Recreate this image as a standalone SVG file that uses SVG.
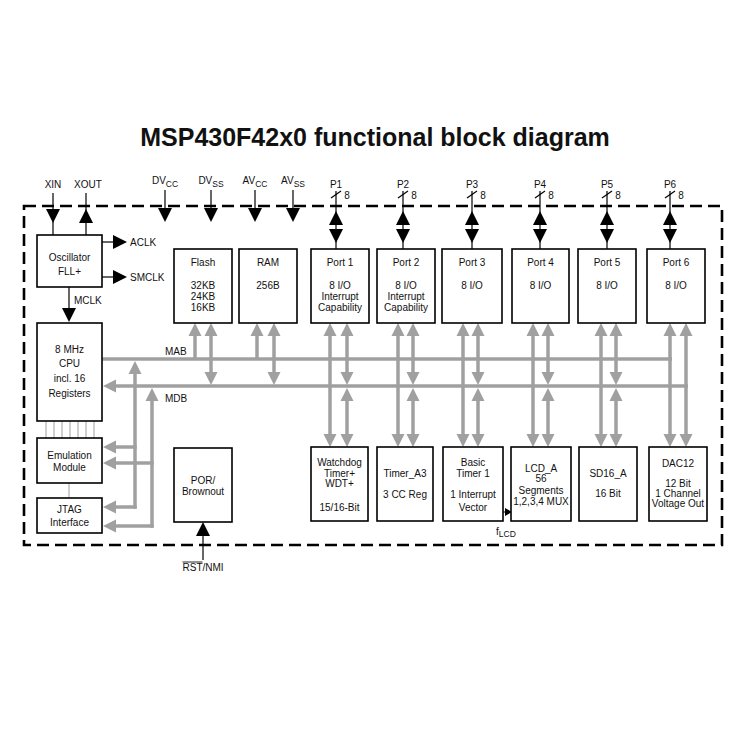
<svg xmlns="http://www.w3.org/2000/svg" xmlns:xlink="http://www.w3.org/1999/xlink" width="750" height="750" viewBox="0 0 750 750">
<style>
text{font-family:"Liberation Sans",Arial,sans-serif;font-size:10px;fill:#111;text-anchor:middle}
.title{font-size:25px;font-weight:bold}
.lbl{text-anchor:start}
.sub{font-size:8.5px}
.box{fill:#fff;stroke:#000;stroke-width:1.6}
.bus{stroke:#a0a0a0;stroke-width:3.5;fill:none}
.thin{stroke:#a0a0a0;stroke-width:1;fill:none}
.blk{stroke:#000;stroke-width:1.2;fill:none}
.ga{fill:#a0a0a0}
.ba{fill:#000}
.border{fill:none;stroke:#000;stroke-width:2.6;stroke-dasharray:12 6}
</style>
<defs>
<path id="gu" class="ga" d="M0,0 L6.5,13 L-6.5,13 Z"/>
<path id="gd" class="ga" d="M0,0 L6.5,-13 L-6.5,-13 Z"/>
<path id="gl" class="ga" d="M0,0 L13,-6.5 L13,6.5 Z"/>
<path id="bu" class="ba" d="M0,0 L7,14 L-7,14 Z"/>
<path id="bd" class="ba" d="M0,0 L7,-14 L-7,-14 Z"/>
<path id="br" class="ba" d="M0,0 L-14,-7 L-14,7 Z"/>
</defs>

<text class="title" x="375" y="146">MSP430F42x0 functional block diagram</text>

<rect class="border" x="24" y="206" width="698" height="339"/>

<g id="connectors">
  <!-- buses -->
  <line class="bus" x1="102" y1="359" x2="672" y2="359"/>
  <line class="bus" x1="112" y1="386" x2="688" y2="386"/>
  <use href="#gl" x="103" y="386"/>
  <!-- CPU side verticals -->
  <line class="bus" x1="135" y1="368" x2="135" y2="508.75"/>
  <use href="#gu" x="135" y="361"/>
  <line class="bus" x1="152" y1="395" x2="152" y2="527.75"/>
  <use href="#gu" x="152" y="388"/>
  <line class="bus" x1="112" y1="447" x2="136.75" y2="447"/>
  <use href="#gl" x="103" y="447"/>
  <line class="bus" x1="112" y1="463" x2="153.75" y2="463"/>
  <use href="#gl" x="103" y="463"/>
  <line class="bus" x1="112" y1="507" x2="136.75" y2="507"/>
  <use href="#gl" x="103" y="507"/>
  <line class="bus" x1="112" y1="526" x2="153.75" y2="526"/>
  <use href="#gl" x="103" y="526"/>
  <!-- CPU to emulation thin lines -->
  <g class="thin">
    <line x1="46" y1="421" x2="46" y2="438"/><line x1="54" y1="421" x2="54" y2="438"/>
    <line x1="62" y1="421" x2="62" y2="438"/><line x1="70" y1="421" x2="70" y2="438"/>
    <line x1="78" y1="421" x2="78" y2="438"/><line x1="86" y1="421" x2="86" y2="438"/>
    <line x1="94" y1="421" x2="94" y2="438"/>
    <line x1="69" y1="483" x2="69" y2="498"/>
  </g>
  <!-- Flash / RAM -->
  <line class="bus" x1="195" y1="329" x2="195" y2="360"/><use href="#gu" x="195" y="323"/>
  <line class="bus" x1="211" y1="329" x2="211" y2="378"/><use href="#gu" x="211" y="323"/><use href="#gd" x="211" y="385"/>
  <line class="bus" x1="257" y1="329" x2="257" y2="360"/><use href="#gu" x="257" y="323"/>
  <line class="bus" x1="274" y1="329" x2="274" y2="378"/><use href="#gu" x="274" y="323"/><use href="#gd" x="274" y="385"/>
  <!-- Port 1 -->
  <line class="bus" x1="330" y1="329" x2="330" y2="441"/><use href="#gu" x="330" y="323"/><use href="#gd" x="330" y="447"/>
  <line class="bus" x1="347" y1="329" x2="347" y2="378"/><use href="#gu" x="347" y="323"/><use href="#gd" x="347" y="385"/>
  <line class="bus" x1="347" y1="394" x2="347" y2="441"/><use href="#gu" x="347" y="388"/><use href="#gd" x="347" y="447"/>
  <!-- Port 2 -->
  <line class="bus" x1="398" y1="329" x2="398" y2="441"/><use href="#gu" x="398" y="323"/><use href="#gd" x="398" y="447"/>
  <line class="bus" x1="413" y1="329" x2="413" y2="378"/><use href="#gu" x="413" y="323"/><use href="#gd" x="413" y="385"/>
  <line class="bus" x1="413" y1="394" x2="413" y2="441"/><use href="#gu" x="413" y="388"/><use href="#gd" x="413" y="447"/>
  <!-- Port 3 -->
  <line class="bus" x1="463" y1="329" x2="463" y2="441"/><use href="#gu" x="463" y="323"/><use href="#gd" x="463" y="447"/>
  <line class="bus" x1="478" y1="329" x2="478" y2="378"/><use href="#gu" x="478" y="323"/><use href="#gd" x="478" y="385"/>
  <line class="bus" x1="478" y1="394" x2="478" y2="441"/><use href="#gu" x="478" y="388"/><use href="#gd" x="478" y="447"/>
  <!-- Port 4 -->
  <line class="bus" x1="533" y1="329" x2="533" y2="441"/><use href="#gu" x="533" y="323"/><use href="#gd" x="533" y="447"/>
  <line class="bus" x1="548" y1="329" x2="548" y2="378"/><use href="#gu" x="548" y="323"/><use href="#gd" x="548" y="385"/>
  <line class="bus" x1="548" y1="394" x2="548" y2="441"/><use href="#gu" x="548" y="388"/><use href="#gd" x="548" y="447"/>
  <!-- Port 5 -->
  <line class="bus" x1="601" y1="329" x2="601" y2="441"/><use href="#gu" x="601" y="323"/><use href="#gd" x="601" y="447"/>
  <line class="bus" x1="616" y1="329" x2="616" y2="378"/><use href="#gu" x="616" y="323"/><use href="#gd" x="616" y="385"/>
  <line class="bus" x1="616" y1="394" x2="616" y2="441"/><use href="#gu" x="616" y="388"/><use href="#gd" x="616" y="447"/>
  <!-- Port 6 -->
  <line class="bus" x1="670" y1="329" x2="670" y2="441"/><use href="#gu" x="670" y="323"/><use href="#gd" x="670" y="447"/>
  <line class="bus" x1="686" y1="329" x2="686" y2="441"/><use href="#gu" x="686" y="323"/><use href="#gd" x="686" y="447"/>

  <!-- black pins -->
  <line class="blk" x1="53" y1="193" x2="53" y2="235"/><use href="#bd" x="53" y="223"/>
  <line class="blk" x1="86" y1="193" x2="86" y2="235"/><use href="#bu" x="86" y="209"/>
  <line class="blk" x1="102" y1="242" x2="114" y2="242"/><use href="#br" x="127" y="242"/>
  <line class="blk" x1="102" y1="277" x2="114" y2="277"/><use href="#br" x="127" y="277"/>
  <line class="blk" x1="69" y1="287" x2="69" y2="310"/><use href="#bd" x="69" y="322"/>
  <line class="blk" x1="165" y1="190" x2="165" y2="210"/><use href="#bd" x="165" y="222"/>
  <line class="blk" x1="211" y1="190" x2="211" y2="210"/><use href="#bd" x="211" y="222"/>
  <line class="blk" x1="255" y1="190" x2="255" y2="210"/><use href="#bd" x="255" y="222"/>
  <line class="blk" x1="293" y1="190" x2="293" y2="210"/><use href="#bd" x="293" y="222"/>
  <!-- port pins -->
  <g id="pins">
    <line class="blk" x1="336" y1="191" x2="336" y2="249"/><use href="#bu" x="336" y="211"/><use href="#bd" x="336" y="243"/><line class="blk" x1="331" y1="198" x2="341" y2="191"/>
    <line class="blk" x1="403" y1="191" x2="403" y2="249"/><use href="#bu" x="403" y="211"/><use href="#bd" x="403" y="243"/><line class="blk" x1="398" y1="198" x2="408" y2="191"/>
    <line class="blk" x1="472" y1="191" x2="472" y2="249"/><use href="#bu" x="472" y="211"/><use href="#bd" x="472" y="243"/><line class="blk" x1="467" y1="198" x2="477" y2="191"/>
    <line class="blk" x1="540" y1="191" x2="540" y2="249"/><use href="#bu" x="540" y="211"/><use href="#bd" x="540" y="243"/><line class="blk" x1="535" y1="198" x2="545" y2="191"/>
    <line class="blk" x1="607" y1="191" x2="607" y2="249"/><use href="#bu" x="607" y="211"/><use href="#bd" x="607" y="243"/><line class="blk" x1="602" y1="198" x2="612" y2="191"/>
    <line class="blk" x1="670" y1="191" x2="670" y2="249"/><use href="#bu" x="670" y="211"/><use href="#bd" x="670" y="243"/><line class="blk" x1="665" y1="198" x2="675" y2="191"/>
  </g>
  <!-- RST/NMI -->
  <line class="blk" x1="203" y1="560" x2="203" y2="535"/><use href="#bu" x="203" y="522"/>
  <!-- fLCD -->
  <line class="blk" x1="503" y1="512" x2="505" y2="512"/><path class="ba" d="M512,512 L505,508 L505,516 Z"/>
</g>

<!-- pin labels -->
<text x="53" y="188">XIN</text>
<text x="88" y="188">XOUT</text>
<text x="165" y="184">DV<tspan class="sub" dy="3">CC</tspan></text>
<text x="211" y="184">DV<tspan class="sub" dy="3">SS</tspan></text>
<text x="255" y="184">AV<tspan class="sub" dy="3">CC</tspan></text>
<text x="293" y="184">AV<tspan class="sub" dy="3">SS</tspan></text>
<text x="336" y="188">P1</text><text x="347" y="199">8</text>
<text x="403" y="188">P2</text><text x="414" y="199">8</text>
<text x="472" y="188">P3</text><text x="483" y="199">8</text>
<text x="540" y="188">P4</text><text x="551" y="199">8</text>
<text x="607" y="188">P5</text><text x="618" y="199">8</text>
<text x="670" y="188">P6</text><text x="681" y="199">8</text>
<text class="lbl" x="130" y="246">ACLK</text>
<text class="lbl" x="130" y="281">SMCLK</text>
<text class="lbl" x="74" y="304">MCLK</text>
<text class="lbl" x="165" y="355">MAB</text>
<text class="lbl" x="165" y="402">MDB</text>
<text class="lbl" x="182.5" y="571">RST/NMI</text>
<line x1="182.5" y1="562" x2="202.5" y2="562" stroke="#111" stroke-width="0.9"/>
<text class="lbl" x="496" y="535">f<tspan class="sub" dy="2">LCD</tspan></text>

<g id="osc"><rect class="box" x="37" y="235" width="65" height="52"/><text x="69.5" y="261">Oscillator</text><text x="69.5" y="275">FLL+</text></g>
<g id="cpu"><rect class="box" x="37" y="323" width="65" height="98"/><text x="69.5" y="353">8 MHz</text><text x="69.5" y="367">CPU</text><text x="69.5" y="382">incl. 16</text><text x="69.5" y="397">Registers</text></g>
<g id="emu"><rect class="box" x="37" y="438" width="65" height="45"/><text x="69.5" y="459">Emulation</text><text x="69.5" y="471">Module</text></g>
<g id="jtag"><rect class="box" x="37" y="498" width="65" height="35"/><text x="69.5" y="513">JTAG</text><text x="69.5" y="526">Interface</text></g>
<g id="flash"><rect class="box" x="174" y="249" width="58" height="74"/><text x="203" y="266">Flash</text><text x="203" y="289">32KB</text><text x="203" y="300">24KB</text><text x="203" y="311">16KB</text></g>
<g id="ram"><rect class="box" x="239" y="249" width="58" height="74"/><text x="268" y="266">RAM</text><text x="268" y="289">256B</text></g>
<g id="port1"><rect class="box" x="311" y="249" width="58" height="74"/><text x="340" y="266">Port 1</text><text x="340" y="289">8 I/O</text><text x="340" y="300">Interrupt</text><text x="340" y="311">Capability</text></g>
<g id="port2"><rect class="box" x="377" y="249" width="58" height="74"/><text x="406" y="266">Port 2</text><text x="406" y="289">8 I/O</text><text x="406" y="300">Interrupt</text><text x="406" y="311">Capability</text></g>
<g id="port3"><rect class="box" x="442" y="249" width="60" height="74"/><text x="472" y="266">Port 3</text><text x="472" y="289">8 I/O</text></g>
<g id="port4"><rect class="box" x="512" y="249" width="57" height="74"/><text x="540.5" y="266">Port 4</text><text x="540.5" y="289">8 I/O</text></g>
<g id="port5"><rect class="box" x="578" y="249" width="58" height="74"/><text x="607" y="266">Port 5</text><text x="607" y="289">8 I/O</text></g>
<g id="port6"><rect class="box" x="647" y="249" width="58" height="74"/><text x="676" y="266">Port 6</text><text x="676" y="289">8 I/O</text></g>
<g id="por"><rect class="box" x="174" y="448" width="58" height="74"/><text x="203" y="484">POR/</text><text x="203" y="495">Brownout</text></g>
<g id="wdt"><rect class="box" x="311" y="447" width="57" height="74"/><text x="339.5" y="466">Watchdog</text><text x="339.5" y="477">Timer+</text><text x="339.5" y="487">WDT+</text><text x="339.5" y="511">15/16-Bit</text></g>
<g id="timera"><rect class="box" x="377" y="447" width="56" height="74"/><text x="405" y="477">Timer_A3</text><text x="405" y="498">3 CC Reg</text></g>
<g id="basictimer"><rect class="box" x="443" y="447" width="60" height="74"/><text x="473" y="466">Basic</text><text x="473" y="477">Timer 1</text><text x="473" y="498">1 Interrupt</text><text x="473" y="511">Vector</text></g>
<g id="lcd"><rect class="box" x="511" y="447" width="60" height="74"/><text x="541" y="472">LCD_A</text><text x="541" y="482">56</text><text x="541" y="494">Segments</text><text x="541" y="505">1,2,3,4 MUX</text></g>
<g id="sd16"><rect class="box" x="579" y="447" width="58" height="74"/><text x="608" y="477">SD16_A</text><text x="608" y="497">16 Bit</text></g>
<g id="dac"><rect class="box" x="649" y="447" width="58" height="74"/><text x="678" y="467">DAC12</text><text x="678" y="487">12 Bit</text><text x="678" y="497">1 Channel</text><text x="678" y="507">Voltage Out</text></g>
</svg>
